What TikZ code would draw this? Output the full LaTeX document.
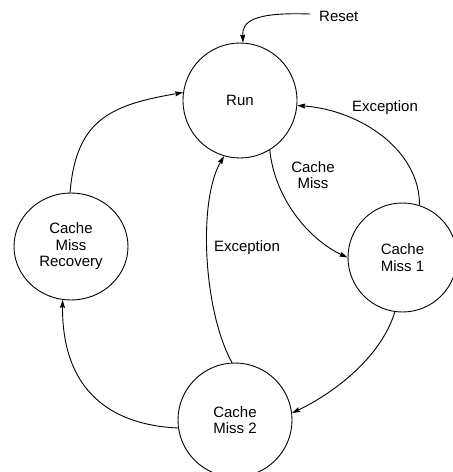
\documentclass[tikz,border=0pt]{standalone}
\usepackage{fontspec}
\setmainfont{Liberation Sans}
\usetikzlibrary{arrows.meta,shapes.geometric}
\begin{document}
\begin{tikzpicture}[x=1pt,y=-1pt,
  state/.style={draw,ellipse,inner sep=0pt,line width=0.9pt,align=center,font=\fontsize{15}{16.5}\selectfont},
  lbl/.style={align=center,inner sep=0pt,font=\fontsize{15}{16.5}\selectfont},
  conn/.style={line width=0.9pt,-{Stealth[length=8pt,width=5pt,inset=1pt]}}]
\useasboundingbox (0,0) rectangle (453,472);
\node[state,minimum width=114pt,minimum height=115pt] (run) at (240,100.5) {Run};
\node[state,minimum width=109pt,minimum height=109pt] (m1) at (402.5,257.5) {Cache\\Miss 1};
\node[state,minimum width=114pt,minimum height=114pt] (m2) at (235,420) {Cache\\Miss 2};
\node[state,minimum width=114pt,minimum height=107pt] (rec) at (71,246.5) {Cache\\Miss\\Recovery};
\node[lbl,anchor=west] (reset) at (319,16) {Reset};
\coordinate (rs) at (310,14);
\node[lbl] (lcm) at (313,175) {Cache\\Miss};
\node[lbl] (lex1) at (385,108) {Exception};
\node[lbl] (lex2) at (247,248) {Exception};
\draw[conn] (rs) .. controls (252,12) and (242,22) .. (run.87);
\draw[conn] (rec.91) .. controls (76,120) and (110,105) .. (run.172);
\draw[conn] (run.-59) .. controls (275,200) and (310,240) .. (m1.180);
\draw[conn] (m1.72) .. controls (420,150) and (360,110) .. (run.-5.5);
\draw[conn] (m1.-98) .. controls (380,360) and (330,395) .. (m2.7);
\draw[conn] (m2.93) .. controls (203,310) and (198,200) .. (run.-106);
\draw[conn] (m2.188) .. controls (110,425) and (62,390) .. (rec.-99);
\end{tikzpicture}
\end{document}
